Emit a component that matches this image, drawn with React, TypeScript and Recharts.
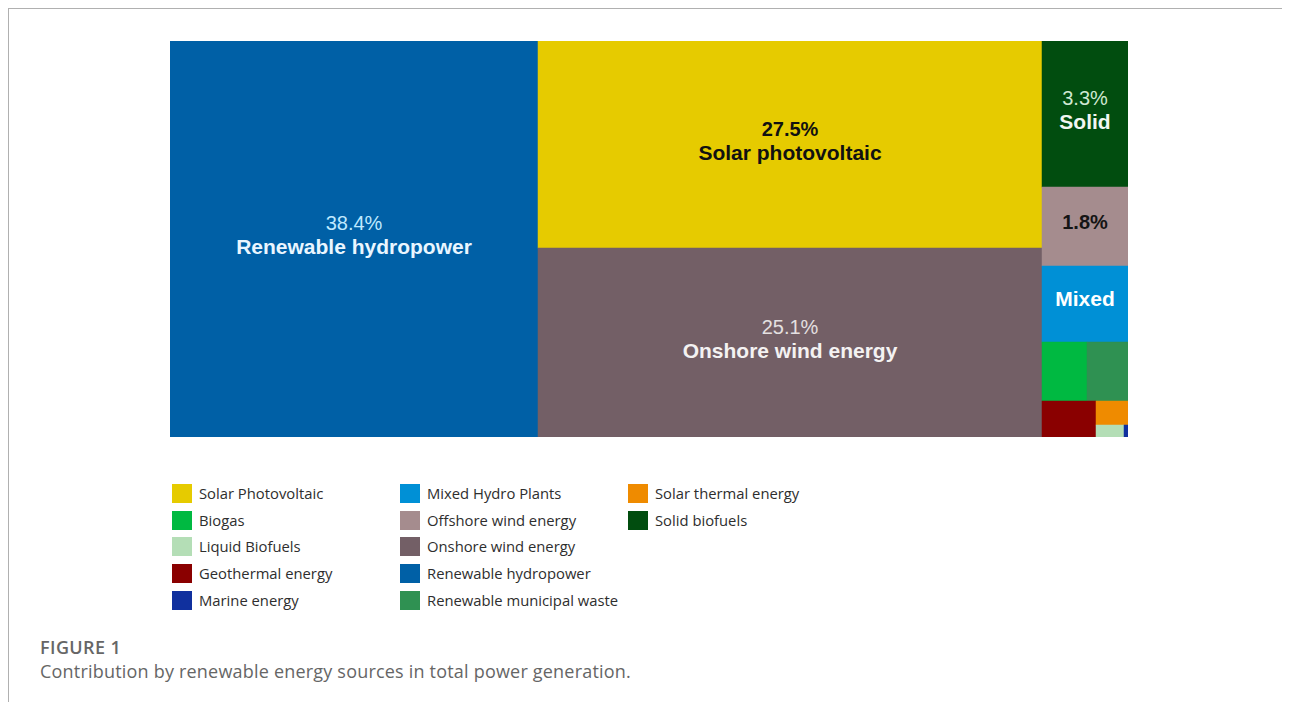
import React from 'react';
import { Treemap } from 'recharts';

// share of total renewable generation, %, in drawing order
const sources = [
  'Renewable hydropower',
  'Solar photovoltaic',
  'Onshore wind energy',
  'Solid biofuels',
  'Offshore wind energy',
  'Mixed Hydro Plants',
  'Biogas',
  'Renewable municipal waste',
  'Geothermal energy',
  'Solar thermal energy',
  'Liquid Biofuels',
  'Marine energy',
];
const shares = [38.4, 27.5, 25.1, 3.3, 1.8, 1.72, 0.7, 0.64, 0.51, 0.205, 0.0875, 0.016];
// label text written inside the tiles
const tilePercents = ['38.4%', '27.5%', '25.1%', '3.3%', '1.8%', '', '', '', '', '', '', ''];
const tileTitles = ['Renewable hydropower', 'Solar photovoltaic', 'Onshore wind energy', 'Solid', '', 'Mixed', '', '', '', '', '', ''];

// legend, column by column
const legendColumns = [
  ['Solar Photovoltaic', 'Biogas', 'Liquid Biofuels', 'Geothermal energy', 'Marine energy'],
  ['Mixed Hydro Plants', 'Offshore wind energy', 'Onshore wind energy', 'Renewable hydropower', 'Renewable municipal waste'],
  ['Solar thermal energy', 'Solid biofuels'],
];

const COLORS: Record<string, string> = {
  'renewable hydropower': '#0060a6',
  'solar photovoltaic': '#e6cb00',
  'onshore wind energy': '#735f66',
  'solid biofuels': '#014d0f',
  'offshore wind energy': '#a58c8e',
  'mixed hydro plants': '#0090d6',
  biogas: '#00b941',
  'renewable municipal waste': '#2f9152',
  'geothermal energy': '#8a0000',
  'solar thermal energy': '#ef8b00',
  'liquid biofuels': '#b4deb6',
  'marine energy': '#10309e',
};

// ink of the percent line / title line per tile
const INK = [
  { pct: '#bfe9ff', pctWeight: 400, title: '#eaf6ff', oneLine: false },
  { pct: '#111111', pctWeight: 700, title: '#111111', oneLine: false },
  { pct: '#e4e0e1', pctWeight: 400, title: '#f4f2f2', oneLine: false },
  { pct: '#cfe8d2', pctWeight: 400, title: '#f2f7f2', oneLine: false },
  { pct: '#151515', pctWeight: 700, title: '#151515', oneLine: true },
  { pct: '#ffffff', pctWeight: 700, title: '#ffffff', oneLine: true },
];

const treeData = sources.map((name, i) => ({ name, size: shares[i] }));

const FONT = '"Liberation Sans", Arial, sans-serif';

const TreemapTile = (props: any) => {
  const { x, y, width, height, depth, name } = props;
  if (depth !== 1) return null;
  const i = sources.indexOf(name);
  const fill = COLORS[String(name).toLowerCase()];
  const ink = INK[i];
  const cx = x + width / 2;
  const cy = y + height / 2;
  const pct = tilePercents[i];
  const title = tileTitles[i];
  return (
    <g>
      <rect x={x} y={y} width={width} height={height} fill={fill} stroke={fill} strokeWidth={0.5} />
      {ink && !ink.oneLine && (
        <>
          <text x={cx} y={cy - 9} textAnchor="middle" fill={ink.pct} fontSize={20} fontWeight={ink.pctWeight} fontFamily={FONT}>
            {pct}
          </text>
          <text x={cx} y={cy + 15} textAnchor="middle" fill={ink.title} fontSize={21} fontWeight={700} fontFamily={FONT}>
            {title}
          </text>
        </>
      )}
      {ink && ink.oneLine && (
        <text x={cx} y={cy + 2} textAnchor="middle" fill={pct ? ink.pct : ink.title} fontSize={pct ? 20 : 21} fontWeight={700} fontFamily={FONT}>
          {pct || title}
        </text>
      )}
    </g>
  );
};

export default function App() {
  return (
    <div style={{ position: 'relative', width: 1282, height: 694 }}>
      {/* page frame: top and left rules */}
      <div style={{ position: 'absolute', left: 0, top: 0, width: 1282, height: 1, background: '#b0b0b0' }} />
      <div style={{ position: 'absolute', left: 0, top: 0, width: 1, height: 694, background: '#b0b0b0' }} />

      <div style={{ position: 'absolute', left: 162, top: 33 }}>
        <Treemap
          width={958}
          height={396}
          data={treeData}
          dataKey="size"
          nameKey="name"
          aspectRatio={1.45}
          isAnimationActive={false}
          content={<TreemapTile />}
        />
      </div>

      {legendColumns.map((col, c) =>
        col.map((label, r) => (
          <div
            key={label}
            style={{
              position: 'absolute',
              left: 164 + c * 228,
              top: 476 + r * 26.7,
              height: 19,
              display: 'flex',
              alignItems: 'center',
              whiteSpace: 'nowrap',
            }}
          >
            <div style={{ width: 20, height: 19, background: COLORS[label.toLowerCase()] }} />
            <span
              style={{
                marginLeft: 7,
                fontFamily: '"Open Sans", sans-serif',
                fontSize: 14.8,
                lineHeight: '19px',
                color: '#2e2e2e',
              }}
            >
              {label}
            </span>
          </div>
        ))
      )}

      <div
        style={{
          position: 'absolute',
          left: 32,
          top: 629,
          fontFamily: '"Open Sans", sans-serif',
          fontSize: 18,
          fontWeight: 600,
          letterSpacing: 0.4,
          lineHeight: '20px',
          color: '#666666',
        }}
      >
        FIGURE 1
      </div>
      <div
        style={{
          position: 'absolute',
          left: 32,
          top: 653,
          fontFamily: '"Open Sans", sans-serif',
          fontSize: 18,
          letterSpacing: 0.2,
          lineHeight: '20px',
          color: '#666666',
          whiteSpace: 'nowrap',
        }}
      >
        Contribution by renewable energy sources in total power generation.
      </div>
    </div>
  );
}
